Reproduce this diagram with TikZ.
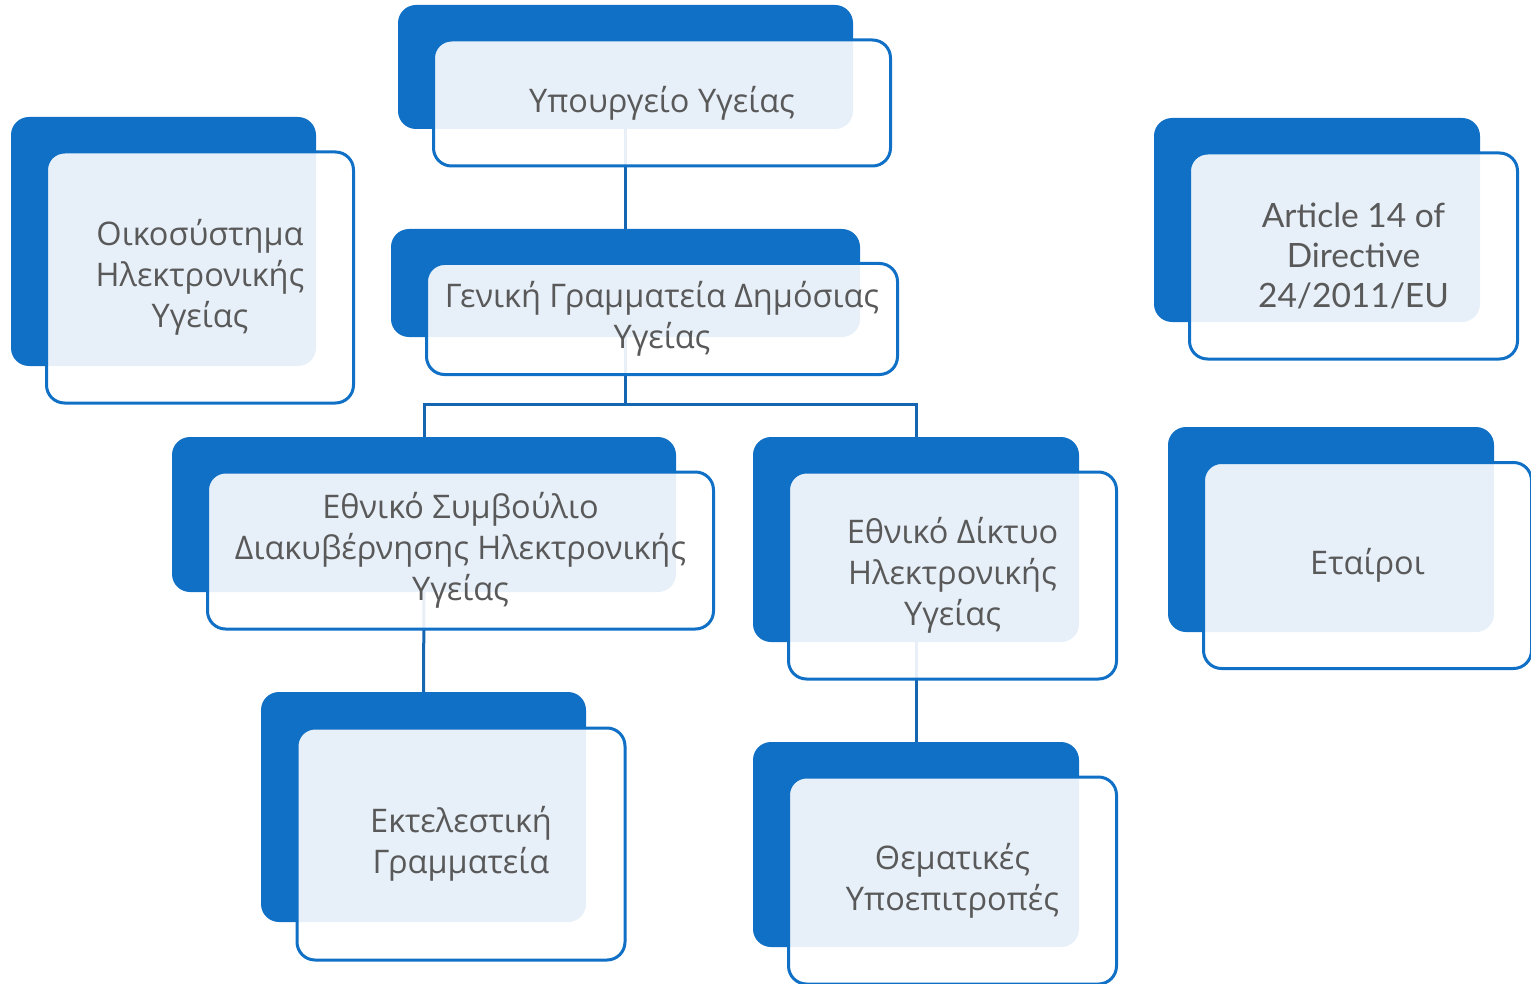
\documentclass[tikz,border=0pt]{standalone}
\usepackage{fontspec}
\setmainfont{Open Sans}
\newfontfamily\latinfont{Lato}
\definecolor{boxblue}{RGB}{16,112,198}
\definecolor{linkblue}{RGB}{21,101,176}
\definecolor{textgray}{RGB}{89,89,89}
\pgfdeclarelayer{background}
\pgfsetlayers{background,main}
\tikzset{
  backbox/.style={fill=boxblue, rounded corners=18pt, inner sep=0pt},
  frontbox/.style={draw=boxblue, line width=3pt, fill=white, fill opacity=0.9,
    text opacity=1, rounded corners=18pt, inner sep=0pt, align=center,
    text=textgray, font=\fontsize{32.5}{41}\selectfont},
  link/.style={draw=linkblue, line width=3pt},
}
\begin{document}
\begin{tikzpicture}[x=1pt,y=-1pt]
		\useasboundingbox (0,0) rectangle (1531,984);
		% back boxes
		\node[backbox, minimum width=455pt, minimum height=124pt] (min) at (625.5,67) {};
		\node[backbox, minimum width=305pt, minimum height=249pt] (eco) at (163.5,241.5) {};
		\node[backbox, minimum width=469pt, minimum height=108pt] (gen) at (625.5,283) {};
		\node[backbox, minimum width=326pt, minimum height=204pt] (art) at (1317,220) {};
		\node[backbox, minimum width=326pt, minimum height=205pt] (par) at (1331,529.5) {};
		\node[backbox, minimum width=504pt, minimum height=155pt] (nat) at (424,514.5) {};
		\node[backbox, minimum width=326pt, minimum height=205pt] (net) at (916,539.5) {};
		\node[backbox, minimum width=325pt, minimum height=230pt] (exe) at (423.5,807) {};
		\node[backbox, minimum width=326pt, minimum height=205pt] (sub) at (916,844.5) {};
		% front boxes with text
		\node[frontbox, minimum width=457pt, minimum height=126pt] (minT) at ([shift={(36.5,36)}]min) {Υπουργείο Υγείας};
		\node[frontbox, minimum width=307pt, minimum height=251pt] (ecoT) at ([shift={(36.5,36)}]eco) {Οικοσύστημα\\Ηλεκτρονικής\\Υγείας};
		\node[frontbox, minimum width=471pt, minimum height=111pt] (genT) at ([shift={(36.5,36)}]gen) {Γενική Γραμματεία Δημόσιας\\Υγείας};
		\node[frontbox, minimum width=328pt, minimum height=206pt, font=\latinfont\fontsize{33.5}{40}\selectfont] (artT) at ([shift={(36.5,36)}]art) {Article 14 of\\Directive\\24/2011/EU};
		\node[frontbox, minimum width=328pt, minimum height=206pt] (parT) at ([shift={(36.5,36)}]par) {Εταίροι};
		\node[frontbox, minimum width=506pt, minimum height=157pt] (natT) at ([shift={(36.5,36)}]nat) {Εθνικό Συμβούλιο\\Διακυβέρνησης Ηλεκτρονικής\\Υγείας};
		\node[frontbox, minimum width=328pt, minimum height=207pt] (netT) at ([shift={(36.5,36)}]net) {Εθνικό Δίκτυο\\Ηλεκτρονικής\\Υγείας};
		\node[frontbox, minimum width=328pt, minimum height=232pt] (exeT) at ([shift={(37.5,37)}]exe) {Εκτελεστική\\Γραμματεία};
		\node[frontbox, minimum width=328pt, minimum height=207pt] (subT) at ([shift={(36.5,36)}]sub) {Θεματικές\\Υποεπιτροπές};
		% connect them
		\coordinate (split) at (625.5,404);
		\begin{pgfonlayer}{background}
			\draw[link] (min.south) -- (gen.north);
			\draw[link] (gen.south) -- (split) -| (nat.north);
			\draw[link] (split) -| (net.north);
			\draw[link] (nat.south) -- (exe.north);
			\draw[link] (net.south) -- (sub.north);
		\end{pgfonlayer}
	\end{tikzpicture}
\end{document}
